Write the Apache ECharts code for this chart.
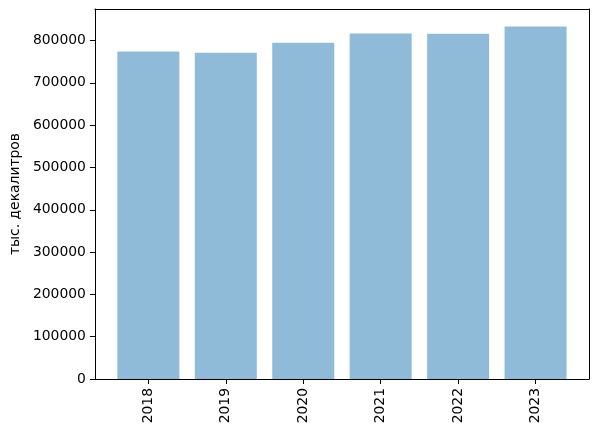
<!DOCTYPE html>
<html><head><meta charset="utf-8">
<script src="https://cdn.jsdelivr.net/npm/echarts@6/dist/echarts.min.js"></script>
<style>html,body{margin:0;padding:0;background:#fff}#c{width:598px;height:434px}</style>
</head><body><div id="c"></div>
<script>
const years = ['2018','2019','2020','2021','2022','2023'];
const volumes = [774000, 771500, 795000, 816500, 816000, 833000];
const yTicks = [0,100000,200000,300000,400000,500000,600000,700000,800000];
const yLabel = 'тыс. декалитров';

const font = 'DejaVu Sans';
const fs = 13.9;
const xPos = years.map((_, i) => i);
const yMax = Math.max(...volumes) * 1.05;
const chart = echarts.init(document.getElementById('c'), null, {renderer:'canvas'});
chart.setOption({
  animation:false,
  backgroundColor:'#fff',
  grid:{left:93, top:9, right:9, bottom:55, containLabel:false},
  xAxis:[{
    type:'value', min:-0.69, max:years.length-1+0.69,
    axisLine:{show:true, onZero:false, lineStyle:{color:'#000', width:1}},
    axisTick:{show:true, length:5, inside:false, customValues:xPos, lineStyle:{color:'#000'}},
    axisLabel:{customValues:xPos, rotate:90, margin:9, color:'#000', fontFamily:font, fontSize:fs,
      formatter:(v)=>years[Math.round(v)]},
    splitLine:{show:false}
  },{
    type:'value', position:'top', min:-0.69, max:years.length-1+0.69,
    axisLine:{show:true, onZero:false, lineStyle:{color:'#000', width:1}},
    axisTick:{show:false}, axisLabel:{show:false}, splitLine:{show:false}
  }],
  yAxis:[{
    type:'value', min:0, max:yMax, position:'left',
    name:yLabel, nameLocation:'middle', nameRotate:90, nameGap:67,
    nameTextStyle:{color:'#000', fontFamily:font, fontSize:fs},
    axisLine:{show:true, onZero:false, lineStyle:{color:'#000', width:1}},
    axisTick:{show:true, length:5, inside:false, customValues:yTicks, lineStyle:{color:'#000'}},
    axisLabel:{customValues:yTicks, margin:9, color:'#000', fontFamily:font, fontSize:fs,
      formatter:(v)=>String(v)},
    splitLine:{show:false}
  },{
    type:'value', position:'right', min:0, max:yMax,
    axisLine:{show:true, onZero:false, lineStyle:{color:'#000', width:1}},
    axisTick:{show:false}, axisLabel:{show:false}, splitLine:{show:false}
  }],
  series:[{
    type:'bar', xAxisIndex:0, yAxisIndex:0,
    data: volumes.map((v,i)=>[i, v]),
    barWidth:62,
    itemStyle:{color:'rgba(31,119,180,0.5)'}
  }]
});
</script></body></html>
